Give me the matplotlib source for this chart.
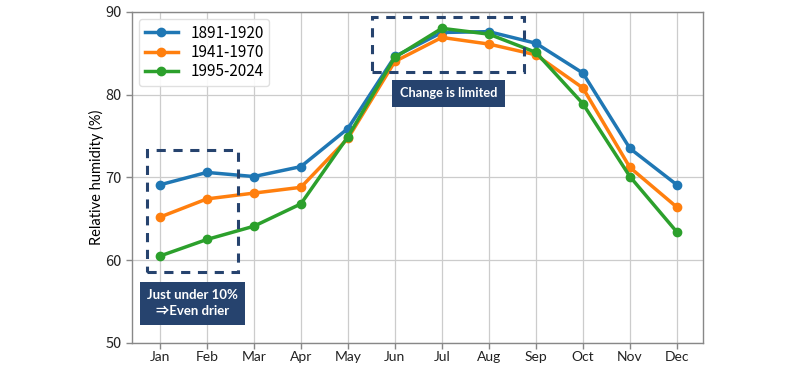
import matplotlib
matplotlib.use("Agg")
import matplotlib.pyplot as plt
from matplotlib.patches import Rectangle

months = ["Jan", "Feb", "Mar", "Apr", "May", "Jun", "Jul", "Aug", "Sep", "Oct", "Nov", "Dec"]
series_labels = ["1891-1920", "1941-1970", "1995-2024"]
rh_1891_1920 = [69.1, 70.6, 70.1, 71.3, 75.9, 84.6, 87.5, 87.6, 86.2, 82.6, 73.5, 69.1]
rh_1941_1970 = [65.2, 67.4, 68.1, 68.8, 74.7, 84.0, 86.9, 86.1, 84.8, 80.8, 71.2, 66.4]
rh_1995_2024 = [60.5, 62.5, 64.1, 66.8, 74.9, 84.5, 88.0, 87.3, 85.1, 78.9, 70.1, 63.4]
colors = ["#1f77b4", "#ff7f0e", "#2ca02c"]
yticks = [50, 60, 70, 80, 90]
note1 = "Just under 10%\n⇒Even drier"
note2 = "Change is limited"

navy = "#26436e"
num_font = ["Noto Sans CJK JP", "DejaVu Sans"]
lat_font = ["Lato", "Noto Sans CJK JP", "DejaVu Sans"]

fig = plt.figure(figsize=(8, 3.68), dpi=100)
ax = fig.add_axes([0.1646, 0.068, 0.7144, 0.900])

x = list(range(len(months)))
for vals, lab, c in zip([rh_1891_1920, rh_1941_1970, rh_1995_2024], series_labels, colors):
    ax.plot(x, vals, color=c, lw=2.5, marker="o", ms=6, label=lab)

ax.set_xlim(-0.6, 11.56)
ax.set_ylim(50, 90)
ax.set_yticks(yticks)
ax.set_xticks(x)
ax.set_xticklabels(months, family=lat_font, fontsize=10)
ax.set_yticklabels([str(v) for v in yticks], family=num_font, fontsize=10.5)
ax.set_ylabel("Relative humidity (%)", family=lat_font, fontsize=10.5)
ax.yaxis.set_label_coords(-0.048, 0.5)
ax.grid(True, color="#cccccc", lw=0.9)
ax.set_axisbelow(True)
for s in ax.spines.values():
    s.set_color("#888888")
    s.set_linewidth(1.0)
ax.tick_params(axis="both", colors="#888888", labelcolor="#222222", length=4, width=1)
ax.tick_params(axis="x", pad=2)
ax.tick_params(axis="y", pad=3)

leg = ax.legend(loc="upper left", prop={"family": num_font, "size": 11},
                frameon=True, fancybox=True, framealpha=0.9, edgecolor="#dddddd",
                handlelength=2.2, borderaxespad=0.5, labelspacing=0.15,
                borderpad=0.35)

# dashed highlight boxes
ax.add_patch(Rectangle((-0.28, 58.6), 1.95, 14.7, fill=False, ls=(0, (3, 2.5)),
                       lw=2.2, ec=navy, zorder=5))
ax.add_patch(Rectangle((4.52, 82.7), 3.22, 6.7, fill=False, ls=(0, (3, 2.5)),
                       lw=2.2, ec=navy, zorder=5))

ax.text(0.70, 54.8, note1, ha="center", va="center", color="white",
        family=lat_font, fontweight="bold", fontsize=9.5, linespacing=1.45,
        bbox=dict(boxstyle="square,pad=0.55", fc=navy, ec="none"), zorder=6)
ax.text(6.14, 80.15, note2, ha="center", va="center", color="white",
        family=lat_font, fontweight="bold", fontsize=9.2,
        bbox=dict(boxstyle="square,pad=0.6", fc=navy, ec="none"), zorder=6)

fig.savefig("out.png", dpi=100)
